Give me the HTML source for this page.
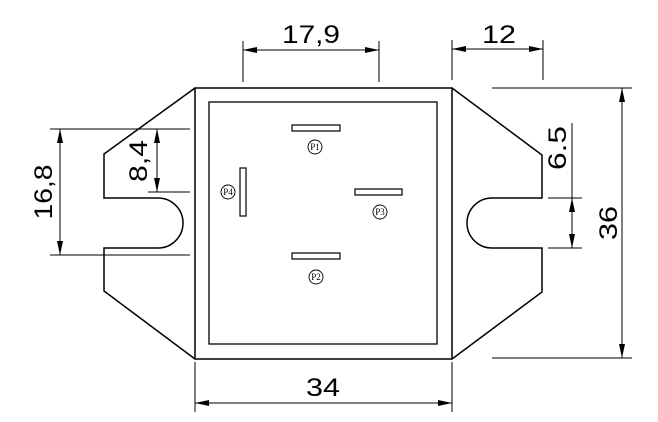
<!DOCTYPE html>
<html><head><meta charset="utf-8"><style>
html,body{margin:0;padding:0;background:#fff;}
svg{display:block;}
text{font-family:"Liberation Sans",sans-serif;fill:#000;}
</style></head><body>
<svg width="658" height="422" viewBox="0 0 658 422" xmlns="http://www.w3.org/2000/svg">
<defs>
<marker id="a" viewBox="0 0 14 6" refX="14" refY="3" markerWidth="14" markerHeight="6" markerUnits="userSpaceOnUse" orient="auto-start-reverse"><path d="M0,0 L14,3 L0,6 Z" fill="#000"/></marker>
</defs>
<g fill="none" stroke="#000" stroke-width="1.5">
<rect x="195" y="88" width="257" height="271"/>
<rect x="209" y="102" width="228" height="242" stroke-width="1.3"/>
<path d="M195,88 L104,154 L104,198 L158,198 A25,25 0 0 1 158,248 L104,248 L104,291 L195,359"/>
<path d="M452,88 L542,155 L542,198 L492,198 A25,25 0 0 0 492,248 L542,248 L542,292 L452,359"/>
</g>
<g fill="none" stroke="#000" stroke-width="1.2">
<rect x="292" y="125" width="48" height="6"/>
<rect x="240" y="168" width="6" height="48"/>
<rect x="355" y="189" width="47" height="6"/>
<rect x="292" y="253" width="48" height="6"/>
<circle cx="315" cy="147" r="7" stroke-width="0.9"/>
<circle cx="228" cy="192" r="7" stroke-width="0.9"/>
<circle cx="380" cy="212" r="7" stroke-width="0.9"/>
<circle cx="316" cy="277" r="7" stroke-width="0.9"/>
</g>
<g font-family="Liberation Serif" font-size="9" text-anchor="middle">
<text x="315" y="150" style="font-family:'Liberation Serif',serif">P1</text>
<text x="228" y="195" style="font-family:'Liberation Serif',serif">P4</text>
<text x="380" y="215" style="font-family:'Liberation Serif',serif">P3</text>
<text x="316" y="280" style="font-family:'Liberation Serif',serif">P2</text>
</g>
<g stroke="#000" stroke-width="1" fill="none">
<!-- 17,9 -->
<line x1="243" y1="41" x2="243" y2="82"/><line x1="379" y1="41" x2="379" y2="82"/>
<line x1="243" y1="50" x2="379" y2="50" marker-start="url(#a)" marker-end="url(#a)"/>
<!-- 12 -->
<line x1="452" y1="40" x2="452" y2="80"/><line x1="543" y1="40" x2="543" y2="80"/>
<line x1="452" y1="49" x2="543" y2="49" marker-start="url(#a)" marker-end="url(#a)"/>
<!-- 36 -->
<line x1="492" y1="88" x2="632" y2="88"/><line x1="492" y1="358" x2="632" y2="358"/>
<line x1="622" y1="88" x2="622" y2="358" marker-start="url(#a)" marker-end="url(#a)"/>
<!-- 6.5 -->
<line x1="548" y1="198" x2="582" y2="198"/><line x1="548" y1="248" x2="582" y2="248"/>
<line x1="572" y1="123" x2="572" y2="248"/>
<line x1="572" y1="223" x2="572" y2="198" marker-end="url(#a)"/>
<line x1="572" y1="223" x2="572" y2="248" marker-end="url(#a)"/>
<!-- 16,8 -->
<line x1="50" y1="129" x2="190" y2="129"/><line x1="50" y1="255" x2="190" y2="255"/>
<line x1="60" y1="129" x2="60" y2="255" marker-start="url(#a)" marker-end="url(#a)"/>
<!-- 8,4 -->
<line x1="148" y1="192" x2="190" y2="192"/>
<line x1="157" y1="129" x2="157" y2="192" marker-start="url(#a)" marker-end="url(#a)"/>
<!-- 34 -->
<line x1="195" y1="362" x2="195" y2="412"/><line x1="452" y1="362" x2="452" y2="412"/>
<line x1="195" y1="403" x2="452" y2="403" marker-start="url(#a)" marker-end="url(#a)"/>
</g>
<g font-size="25" text-anchor="middle">
<text x="311" y="43" textLength="58" lengthAdjust="spacingAndGlyphs">17,9</text>
<text x="499" y="43" textLength="34" lengthAdjust="spacingAndGlyphs">12</text>
<text x="323" y="396" textLength="34" lengthAdjust="spacingAndGlyphs">34</text>
<text transform="translate(617,223) rotate(-90)" textLength="34" lengthAdjust="spacingAndGlyphs">36</text>
<text transform="translate(566,148) rotate(-90)" textLength="44" lengthAdjust="spacingAndGlyphs">6.5</text>
<text transform="translate(52,192) rotate(-90)" textLength="55" lengthAdjust="spacingAndGlyphs">16,8</text>
<text transform="translate(147,161) rotate(-90)" textLength="42" lengthAdjust="spacingAndGlyphs">8,4</text>
</g>
</svg>
</body></html>
